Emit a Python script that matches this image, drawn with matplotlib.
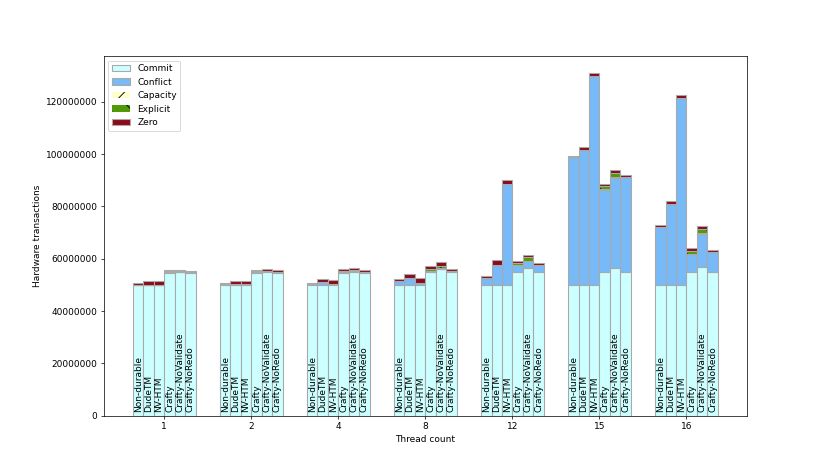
import numpy as np
import matplotlib
matplotlib.use('Agg')
import matplotlib.pyplot as plt

threads = ['1', '2', '4', '8', '12', '15', '16']
systems = ['Non-durable', 'DudeTM', 'NV-HTM', 'Crafty', 'Crafty-NoValidate', 'Crafty-NoRedo']

# values in millions, rows = thread count, columns = systems
commit = [
    [49.8, 49.8, 49.8, 54.7, 54.9, 54.7],
    [49.8, 49.8, 49.8, 54.7, 55.0, 54.7],
    [49.8, 49.8, 49.8, 54.6, 55.0, 54.6],
    [50.0, 50.0, 50.0, 54.8, 56.0, 54.8],
    [50.0, 50.0, 50.0, 54.8, 56.5, 54.8],
    [49.8, 49.8, 49.8, 54.8, 56.5, 54.8],
    [49.8, 49.8, 49.8, 54.8, 56.8, 54.8],
]
conflict = [
    [0.3, 0.3, 0.3, 0.3, 0.2, 0.2],
    [0.4, 0.4, 0.4, 0.3, 0.3, 0.3],
    [0.5, 1.3, 0.5, 0.4, 0.4, 0.5],
    [1.5, 2.7, 0.9, 0.3, 0.2, 0.4],
    [2.7, 7.6, 38.7, 2.7, 2.5, 2.7],
    [49.0, 51.8, 80.2, 31.6, 34.5, 36.5],
    [22.3, 31.0, 71.8, 6.9, 12.8, 7.8],
]
capacity = [
    [0.0, 0.0, 0.0, 0.0, 0.0, 0.0],
    [0.0, 0.0, 0.0, 0.0, 0.0, 0.0],
    [0.0, 0.0, 0.0, 0.0, 0.0, 0.0],
    [0.0, 0.0, 0.0, 0.1, 0.1, 0.0],
    [0.0, 0.0, 0.0, 0.1, 0.1, 0.0],
    [0.0, 0.0, 0.0, 0.1, 0.1, 0.0],
    [0.0, 0.0, 0.0, 0.1, 0.1, 0.0],
]
explicit = [
    [0.0, 0.0, 0.0, 0.2, 0.1, 0.0],
    [0.0, 0.0, 0.0, 0.2, 0.2, 0.0],
    [0.0, 0.0, 0.0, 0.5, 0.4, 0.0],
    [0.0, 0.0, 0.0, 0.9, 1.0, 0.0],
    [0.0, 0.0, 0.0, 0.6, 1.4, 0.0],
    [0.0, 0.0, 0.0, 1.3, 1.7, 0.0],
    [0.0, 0.0, 0.0, 1.3, 1.7, 0.0],
]
zero = [
    [0.5, 1.4, 1.4, 0.6, 0.6, 0.6],
    [0.4, 1.4, 1.4, 0.6, 0.6, 0.6],
    [0.4, 1.3, 1.5, 0.7, 0.7, 0.7],
    [0.7, 1.6, 1.9, 1.0, 1.4, 0.9],
    [0.6, 1.8, 1.3, 1.1, 0.9, 0.9],
    [0.6, 1.2, 1.0, 0.8, 1.0, 0.9],
    [0.7, 1.4, 1.0, 0.9, 1.0, 0.9],
]

components = [
    ('Commit', commit, '#ccffff', None),
    ('Conflict', conflict, '#78b9f7', None),
    ('Capacity', capacity, '#ffffcc', '/'),
    ('Explicit', explicit, '#4f9a06', '\\'),
    ('Zero', zero, '#8c0a1a', None),
]

width = 0.12
edge = '#a9a9a9'
fig, ax = plt.subplots(figsize=(830 / 65, 467 / 65), dpi=65)

x = np.arange(len(threads))
bottom = np.zeros((len(threads), len(systems)))
for name, vals, color, hatch in components:
    vals = np.array(vals) * 1e6
    for i, s in enumerate(systems):
        pos = x + (i - 2.5) * width
        lab = name if i == 0 else None
        if hatch:
            ax.bar(pos, vals[:, i], width, bottom=bottom[:, i], color=color,
                   edgecolor='black', linewidth=0, hatch=hatch, label=lab)
            ax.bar(pos, vals[:, i], width, bottom=bottom[:, i], fill=False,
                   edgecolor=edge, linewidth=1.2)
        else:
            ax.bar(pos, vals[:, i], width, bottom=bottom[:, i], color=color,
                   edgecolor=edge, linewidth=1.2, label=lab)
    bottom += vals

for g in range(len(threads)):
    for i, s in enumerate(systems):
        ax.text(x[g] + (i - 2.5) * width, 1.5e6, s, rotation=90,
                ha='center', va='bottom')

ax.set_xticks(x)
ax.set_xticklabels(threads)
ax.set_xlabel('Thread count')
ax.set_ylabel('Hardware transactions')
ax.ticklabel_format(axis='y', style='plain')
ax.legend(loc='upper left')

plt.savefig('out.png', dpi=65)
